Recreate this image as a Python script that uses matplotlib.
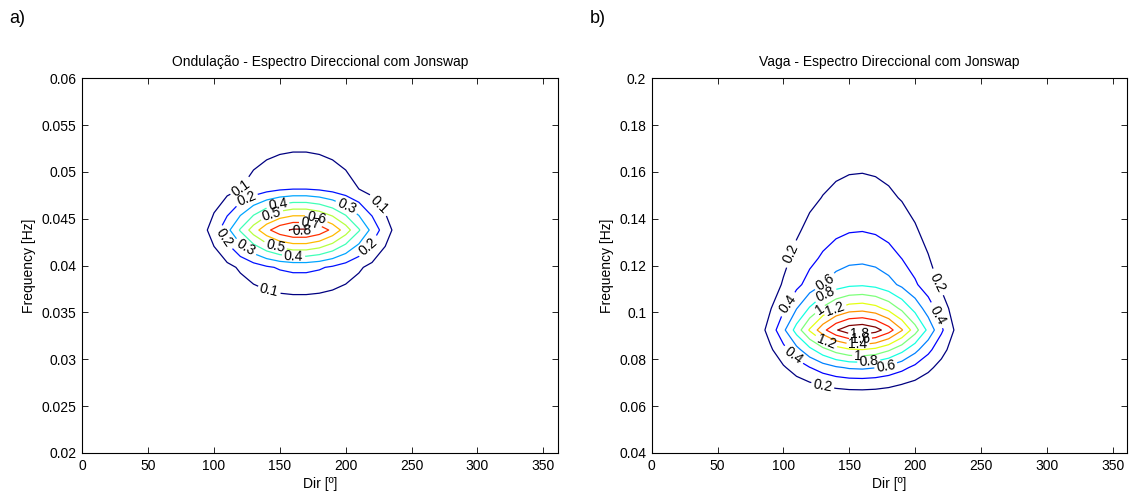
import numpy as np
import matplotlib.pyplot as plt
from matplotlib.ticker import FormatStrFormatter

plt.rcParams['font.family'] = ['Liberation Sans', 'DejaVu Sans']

# a) Ondulação (swell) - JONSWAP parameters
swell_dirs = np.arange(0, 361, 10)
swell_peak_dir = 165.0
swell_peak_freq = 0.0438
swell_gamma = 8.0
swell_sigma = (0.07, 0.07)
swell_peak_value = 0.82
swell_levels = [0.1, 0.2, 0.3, 0.4, 0.5, 0.6, 0.7, 0.8]
swell_yticks = [0.02, 0.025, 0.03, 0.035, 0.04, 0.045, 0.05, 0.055, 0.06]

# b) Vaga (wind sea)
sea_dirs = np.arange(0, 361, 10)
sea_peak_dir = 158.0
sea_peak_freq = 0.0925
sea_gamma = 2.0
sea_sigma = (0.07, 0.09)
sea_peak_value = 1.97
sea_levels = [0.2, 0.4, 0.6, 0.8, 1.0, 1.2, 1.4, 1.6, 1.8]
sea_yticks = [0.04, 0.06, 0.08, 0.1, 0.12, 0.14, 0.16, 0.18, 0.2]

# model frequencies grow by 10 % per bin
freq_ratio = 1.1

xticks = [0, 50, 100, 150, 200, 250, 300, 350]

# where the contour labels sit (dir, freq), one list per level
swell_label_pos = [
    [(119.7, 0.0484), (224, 0.0463), (141.7, 0.0371)],
    [(125, 0.0470), (108.7, 0.0431), (217.4, 0.0420)],
    [(200, 0.0461), (123.8, 0.0418)],
    [(148.6, 0.0464), (160.4, 0.0407)],
    [(144, 0.0454), (146.4, 0.0419)],
    [(177.5, 0.0448)],
    [(173, 0.0442)],
    [(166.5, 0.0435)],
]
sea_label_pos = [
    [(107.8, 0.1244), (212.9, 0.1116), (130, 0.0691)],
    [(104.3, 0.1031), (212.9, 0.0974), (107, 0.0811)],
    [(133, 0.1116), (177.6, 0.0783)],
    [(133, 0.1057), (164.8, 0.0800)],
    [(128, 0.1010), (156.7, 0.0826)],
    [(139.6, 0.1010), (132.2, 0.0868)],
    [(156.7, 0.0861)],
    [(158.6, 0.0885)],
    [(158, 0.0911)],
]


def jonswap_dir(freqs, dirs, fp, gamma, sig, theta_m):
    """JONSWAP frequency spectrum with cos^2 directional spreading"""
    f = np.asarray(freqs, dtype=float)[:, None]
    sigma = np.where(f <= fp, sig[0], sig[1])
    pm = f ** -5 * np.exp(-1.25 * (fp / f) ** 4)
    enh = gamma ** np.exp(-(f - fp) ** 2 / (2 * sigma ** 2 * fp ** 2))
    dth = np.radians(np.asarray(dirs, dtype=float)[None, :] - theta_m)
    spread = np.where(np.abs(dth) < np.pi / 2, np.cos(dth) ** 2, 0.0)
    return pm * enh * spread


def draw_panel(ax, dirs, fp, gamma, sig, theta_m, peak, levels, label_pos,
               ylim, yticks, title):
    k_lo = int(np.floor(np.log(ylim[0] / fp) / np.log(freq_ratio))) - 1
    k_hi = int(np.ceil(np.log(ylim[1] / fp) / np.log(freq_ratio))) + 1
    freqs = fp * freq_ratio ** np.arange(k_lo, k_hi + 1)
    E = jonswap_dir(freqs, dirs, fp, gamma, sig, theta_m)
    E = E / jonswap_dir([fp], [theta_m], fp, gamma, sig, theta_m)[0, 0] * peak
    n = len(levels)
    for i, lev in enumerate(levels):
        color = plt.cm.jet(i / (n - 1))
        cs = ax.contour(dirs, freqs, E, levels=[lev], colors=[color],
                        linewidths=0.9)
        if label_pos[i]:
            ax.clabel(cs, manual=label_pos[i], fmt='%g', fontsize=10,
                      colors='k', inline=True, inline_spacing=2)

    ax.set_xlim(0, 361)
    ax.set_ylim(*ylim)
    ax.set_xticks(xticks)
    ax.set_yticks(yticks)
    ax.yaxis.set_major_formatter(FormatStrFormatter('%g'))
    ax.tick_params(direction='in', length=4, width=0.6, top=True, right=True,
                   labelsize=10, pad=4)
    for sp in ax.spines.values():
        sp.set_linewidth(0.8)
    ax.set_xlabel('Dir [º]', fontsize=10, labelpad=3)
    ax.set_ylabel('Frequency [Hz]', fontsize=10)
    ax.set_title(title, fontsize=10, pad=9)


fig = plt.figure(figsize=(11.32, 4.94), dpi=100)
ax1 = fig.add_axes([0.0727, 0.083, 0.4200, 0.7585])
ax2 = fig.add_axes([0.5757, 0.083, 0.4199, 0.7585])

draw_panel(ax1, swell_dirs, swell_peak_freq, swell_gamma, swell_sigma,
           swell_peak_dir, swell_peak_value, swell_levels, swell_label_pos,
           (0.02, 0.06), swell_yticks,
           'Ondulação - Espectro Direccional com Jonswap')
draw_panel(ax2, sea_dirs, sea_peak_freq, sea_gamma, sea_sigma,
           sea_peak_dir, sea_peak_value, sea_levels, sea_label_pos,
           (0.04, 0.2), sea_yticks,
           'Vaga - Espectro Direccional com Jonswap')

fig.text(0.008, 0.963, 'a)', fontsize=13, va='center', ha='left')
fig.text(0.521, 0.963, 'b)', fontsize=13, va='center', ha='left')

fig.savefig('out.png', dpi=100)
